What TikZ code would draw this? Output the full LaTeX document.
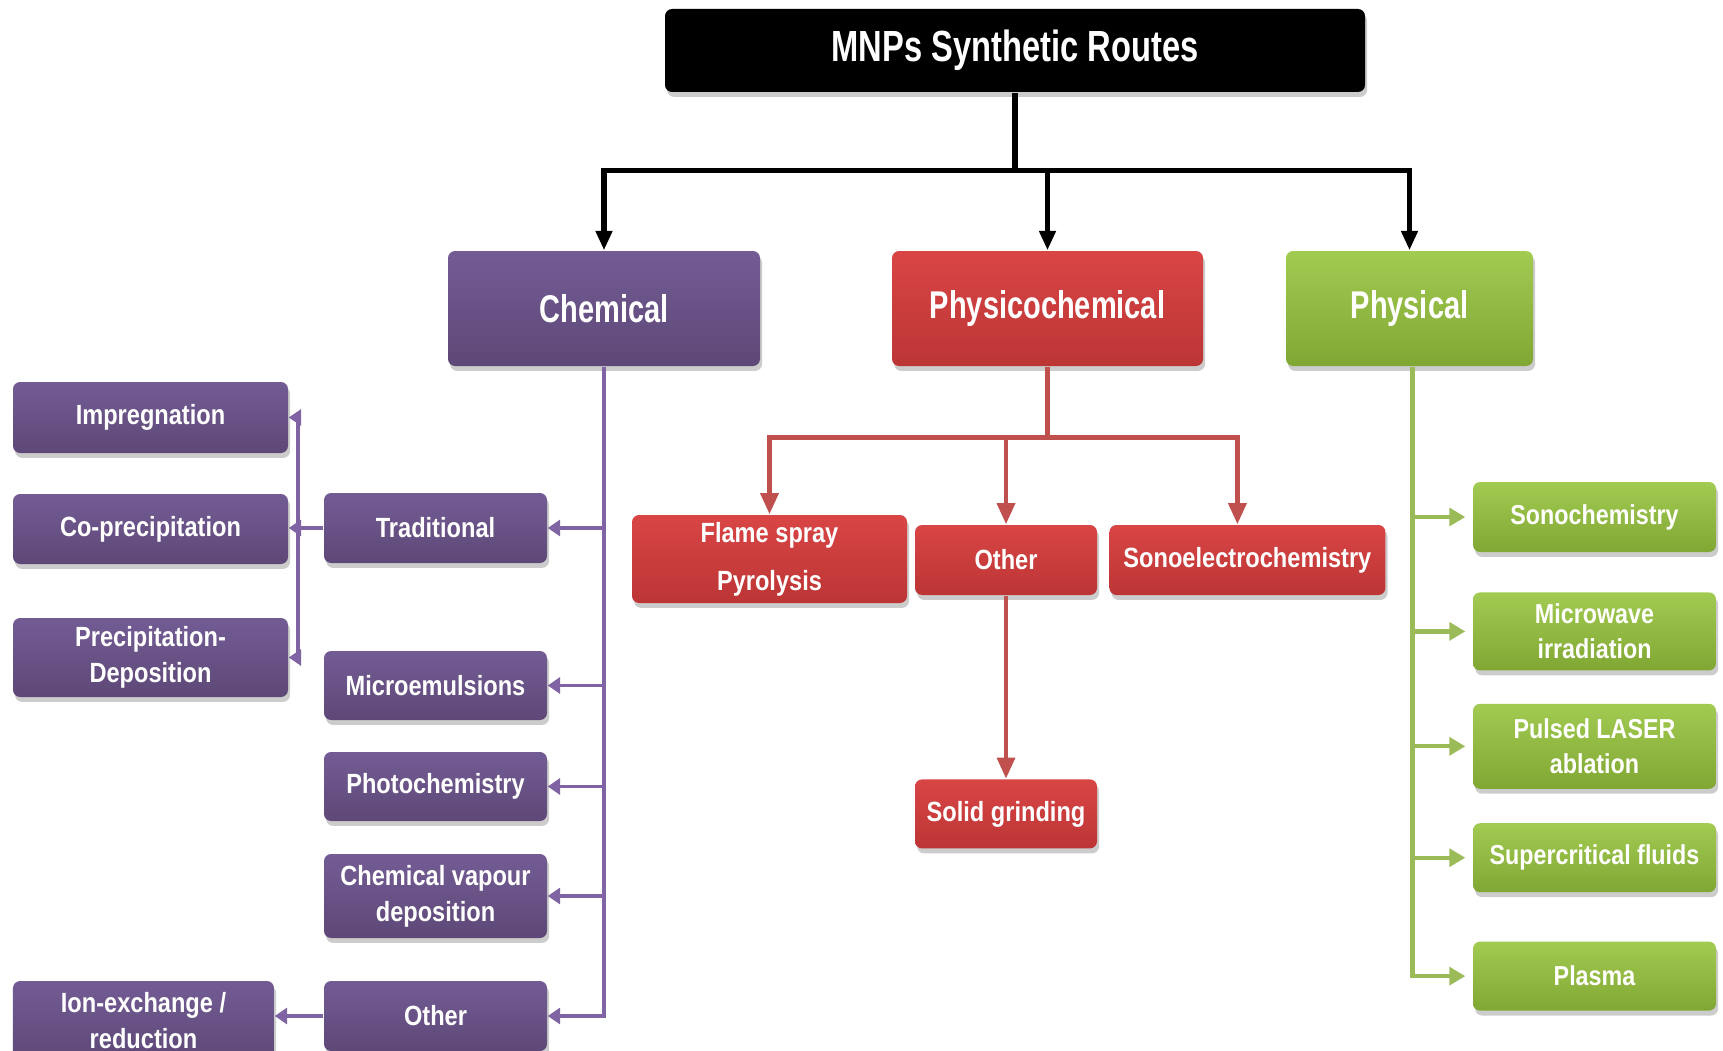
\documentclass[tikz,border=0pt]{standalone}
\usepackage{fontspec}
\setmainfont{Liberation Sans}[FakeStretch=0.85]
\newfontfamily\tallfont{Liberation Sans}[FakeStretch=0.75]
\usepackage{xcolor}
\usetikzlibrary{arrows.meta,positioning,calc,shadows}

\definecolor{purpleTop}{HTML}{735C94}
\definecolor{purpleBot}{HTML}{5E4877}
\definecolor{purpleLine}{HTML}{7F63A3}
\definecolor{redTop}{HTML}{D94545}
\definecolor{redBot}{HTML}{BC3535}
\definecolor{redLine}{HTML}{C0504D}
\definecolor{greenTop}{HTML}{A2CB52}
\definecolor{greenBot}{HTML}{80A733}
\definecolor{greenLine}{HTML}{9BBB59}

\begin{document}
\begin{tikzpicture}[
box/.style={
rectangle,
rounded corners=2pt,
text=white,
align=center,
inner sep=1pt,
font=\bfseries\fontsize{7.9}{10.2}\selectfont,
drop shadow={opacity=0.4,shadow xshift=0.6pt,shadow yshift=-1.4pt}
},
big/.style={minimum height=1.15cm,font=\tallfont\bfseries\fontsize{11}{12}\selectfont},
Tstyle/.style={fill=black},
Cstyle/.style={top color=purpleTop,bottom color=purpleBot},
PCstyle/.style={top color=redTop,bottom color=redBot},
Pstyle/.style={top color=greenTop,bottom color=greenBot,font=\bfseries\fontsize{7.8}{10}\selectfont},
Tedge/.style={draw=black,line width=1.5pt,-{Triangle[width=4.5pt,length=5.5pt]}},
Cedge/.style={draw=purpleLine,line width=1.1pt,-{Triangle[width=4.5pt,length=3.5pt]}},
PCedge/.style={draw=redLine,line width=1.3pt,-{Triangle[width=5pt,length=6pt]}},
Pedge/.style={draw=greenLine,line width=1.2pt,-{Triangle[width=5pt,length=4.5pt]},shorten >=0.07cm}
]
\useasboundingbox (0,0) rectangle (17.23,-10.51);
\clip (0,0) rectangle (17.23,-10.51);

% top
\node[box,Tstyle,minimum width=7cm,minimum height=0.83cm,font=\tallfont\bfseries\fontsize{12.4}{13}\selectfont] (routes) at (10.15,-0.505) {MNPs Synthetic Routes};

% main routes
\node[box,big,Cstyle,minimum width=3.12cm] (chem) at (6.04,-3.085) {Chemical};
\node[box,big,PCstyle,minimum width=3.11cm] (physchem) at (10.475,-3.085) {Physicochemical};
\node[box,big,Pstyle,minimum width=2.47cm,font=\tallfont\bfseries\fontsize{11}{12}\selectfont] (phys) at (14.095,-3.085) {Physical};

% chemical
\node[box,Cstyle,minimum width=2.23cm,minimum height=0.70cm] (trad) at (4.355,-5.28) {Traditional};
\node[box,Cstyle,minimum width=2.23cm,minimum height=0.69cm] (micro) at (4.355,-6.855) {Microemulsions};
\node[box,Cstyle,minimum width=2.23cm,minimum height=0.69cm] (photo) at (4.355,-7.865) {Photochemistry};
\node[box,Cstyle,minimum width=2.23cm,minimum height=0.84cm] (cvd) at (4.355,-8.96) {Chemical vapour\\deposition};
\node[box,Cstyle,minimum width=2.23cm,minimum height=0.70cm] (cother) at (4.355,-10.16) {Other};
\node[box,Cstyle,minimum width=2.75cm,minimum height=0.71cm] (impreg) at (1.505,-4.175) {Impregnation};
\node[box,Cstyle,minimum width=2.75cm,minimum height=0.70cm] (coprec) at (1.505,-5.29) {Co-precipitation};
\node[box,Cstyle,minimum width=2.75cm,minimum height=0.79cm] (precip) at (1.505,-6.575) {Precipitation-\\Deposition};
\node[box,Cstyle,minimum width=2.61cm,minimum height=0.79cm] (ionex) at (1.435,-10.205) {Ion-exchange /\\reduction};

% physicochemical
\node[box,PCstyle,minimum width=2.75cm,minimum height=0.88cm] (flame) at (7.695,-5.59) {Flame spray\\[3.5pt]Pyrolysis};
\node[box,PCstyle,minimum width=1.82cm,minimum height=0.70cm] (rother) at (10.06,-5.6) {Other};
\node[box,PCstyle,minimum width=2.76cm,minimum height=0.70cm] (sonoel) [right=0.11cm of rother] {Sonoelectrochemistry};
\node[box,PCstyle,minimum width=1.82cm,minimum height=0.69cm] (solid) [below=1.83cm of rother] {Solid grinding};

% physical
\node[box,Pstyle,minimum width=2.43cm,minimum height=0.70cm] (sono) at (15.945,-5.17) {Sonochemistry};
\node[box,Pstyle,minimum width=2.43cm,minimum height=0.78cm] (microw) [below=0.39cm of sono] {Microwave\\irradiation};
\node[box,Pstyle,minimum width=2.43cm,minimum height=0.85cm] (pulsed) [below=0.32cm of microw] {Pulsed LASER\\ablation};
\node[box,Pstyle,minimum width=2.43cm,minimum height=0.69cm] (superc) [below=0.33cm of pulsed] {Supercritical fluids};
\node[box,Pstyle,minimum width=2.43cm,minimum height=0.69cm] (plasma) [below=0.48cm of superc] {Plasma};

% connectors
\draw[Tedge,-] (routes.south) -- ++(0,-0.78) coordinate (hub);
\draw[Tedge] (hub) -| (chem.north);
\draw[Tedge] (hub) -| (physchem.north);
\draw[Tedge] (hub) -| (phys.north);

\draw[Cedge] (chem.south) |- (trad.east);
\draw[Cedge] (chem.south) |- (micro.east);
\draw[Cedge] (chem.south) |- (photo.east);
\draw[Cedge] (chem.south) |- (cvd.east);
\draw[Cedge] (chem.south) |- (cother.east);
\draw[Cedge] (trad.west) -- ++(-0.25,0) |- (impreg.east);
\draw[Cedge] (trad.west) -- (trad.west -| coprec.east);
\draw[Cedge] (trad.west) -- ++(-0.25,0) |- (precip.east);
\draw[Cedge] (cother.west) -- (cother.west -| ionex.east);

\draw[PCedge,-] (physchem.south) -- ++(0,-0.71) coordinate (rhub);
\draw[PCedge] (rhub) -| (flame.north);
\draw[PCedge] (rhub) -| (rother.north);
\draw[PCedge] (rhub) -| ([xshift=-0.1cm]sonoel.north);
\draw[PCedge] (rother.south) -- (solid.north);

\draw[Pedge] ([xshift=0.03cm]phys.south) |- (sono.west);
\draw[Pedge] ([xshift=0.03cm]phys.south) |- (microw.west);
\draw[Pedge] ([xshift=0.03cm]phys.south) |- (pulsed.west);
\draw[Pedge] ([xshift=0.03cm]phys.south) |- (superc.west);
\draw[Pedge] ([xshift=0.03cm]phys.south) |- (plasma.west);
\end{tikzpicture}
\end{document}
